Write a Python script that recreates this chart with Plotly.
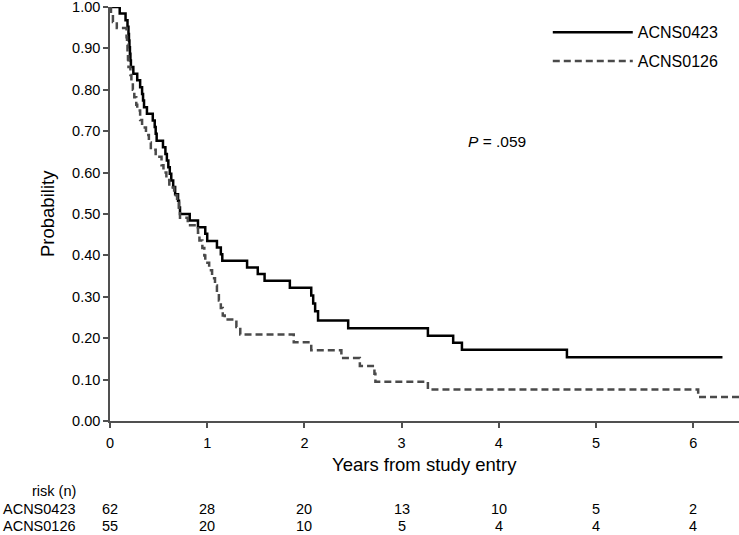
import plotly.graph_objects as go

# ---- data ----
t_0423 = [0.00, 0.10, 0.16, 0.18, 0.19, 0.195, 0.20, 0.205, 0.21, 0.215, 0.24, 0.28, 0.31, 0.33,
          0.34, 0.35, 0.38, 0.44, 0.46, 0.47, 0.48, 0.545, 0.57, 0.585, 0.60, 0.615, 0.63, 0.65,
          0.67, 0.70, 0.71, 0.72, 0.82, 0.905, 0.98, 1.00, 1.10, 1.14, 1.155, 1.41, 1.52, 1.59,
          1.85, 2.07, 2.09, 2.11, 2.14, 2.45, 3.27, 3.53, 3.62, 4.70, 6.30]
s_0423 = [1.000, 0.984, 0.968, 0.952, 0.935, 0.919, 0.903, 0.887, 0.871, 0.855, 0.839, 0.823,
          0.806, 0.790, 0.774, 0.758, 0.742, 0.726, 0.710, 0.694, 0.677, 0.661, 0.645, 0.629,
          0.613, 0.597, 0.581, 0.565, 0.548, 0.532, 0.516, 0.500, 0.484, 0.468, 0.452, 0.435,
          0.419, 0.403, 0.387, 0.371, 0.355, 0.339, 0.322, 0.303, 0.284, 0.265, 0.243, 0.224,
          0.206, 0.189, 0.172, 0.154, 0.154]

t_0126 = [0.00, 0.01, 0.03, 0.07, 0.17, 0.175, 0.18, 0.185, 0.19, 0.21, 0.22, 0.235, 0.25, 0.27,
          0.28, 0.31, 0.33, 0.37, 0.40, 0.42, 0.47, 0.53, 0.55, 0.58, 0.61, 0.66, 0.69, 0.71,
          0.72, 0.80, 0.905, 0.92, 0.95, 0.97, 0.98, 1.02, 1.05, 1.08, 1.10, 1.12, 1.14, 1.16,
          1.18, 1.30, 1.34, 1.89, 2.07, 2.38, 2.57, 2.72, 2.73, 3.27, 6.05, 6.60]
s_0126 = [1.000, 0.982, 0.964, 0.949, 0.927, 0.909, 0.891, 0.873, 0.855, 0.836, 0.818, 0.800,
          0.782, 0.764, 0.750, 0.727, 0.709, 0.691, 0.673, 0.655, 0.638, 0.618, 0.600, 0.582,
          0.564, 0.545, 0.527, 0.509, 0.491, 0.473, 0.455, 0.436, 0.418, 0.400, 0.382, 0.364,
          0.345, 0.327, 0.309, 0.291, 0.273, 0.255, 0.245, 0.227, 0.209, 0.190, 0.171, 0.152,
          0.133, 0.114, 0.095, 0.076, 0.058, 0.058]

risk_times = [0, 1, 2, 3, 4, 5, 6]
risk_0423 = [62, 28, 20, 13, 10, 5, 2]
risk_0126 = [55, 20, 10, 5, 4, 4, 4]

y_ticks = [0.0, 0.1, 0.2, 0.3, 0.4, 0.5, 0.6, 0.7, 0.8, 0.9, 1.0]
x_ticks = [0, 1, 2, 3, 4, 5, 6]

FONT = "Arial, Liberation Sans, sans-serif"
AXIS_COL = "#505050"
RISK_SIZE = 14.5

fig = go.Figure()
fig.add_trace(go.Scatter(x=t_0423, y=s_0423, mode="lines", line_shape="hv",
                         name="ACNS0423", legendgroup="a",
                         line=dict(color="black", width=2.5), cliponaxis=False))
fig.add_trace(go.Scatter(x=t_0126, y=s_0126, mode="lines", line_shape="hv",
                         name="ACNS0126", legendgroup="b",
                         line=dict(color="#4a4a4a", width=2.5, dash="7px,4px")))

annotations = []
# axis titles
annotations.append(dict(text="Years from study entry", xref="paper", yref="paper", x=0.5, y=0,
                        xanchor="center", yanchor="middle", yshift=-43, showarrow=False,
                        font=dict(size=18.5, color="black", family=FONT)))
annotations.append(dict(text="Probability", xref="paper", yref="paper", x=0, y=0.5,
                        xanchor="center", yanchor="middle", xshift=-63, textangle=-90,
                        showarrow=False, font=dict(size=18.5, color="black", family=FONT)))
# risk table
annotations.append(dict(text="risk (n)", xref="paper", yref="paper", x=0, y=0,
                        xanchor="right", yanchor="middle", xshift=-32, yshift=-70,
                        showarrow=False, font=dict(size=RISK_SIZE, color="black", family=FONT)))
for lab, vals, ys in (("ACNS0423", risk_0423, -88), ("ACNS0126", risk_0126, -105)):
    annotations.append(dict(text=lab, xref="paper", yref="paper", x=0, y=0,
                            xanchor="right", yanchor="middle", xshift=-32, yshift=ys,
                            showarrow=False, font=dict(size=RISK_SIZE, color="black", family=FONT)))
    for tx, v in zip(risk_times, vals):
        annotations.append(dict(text=str(v), xref="x", yref="paper", x=tx, y=0,
                                xanchor="center", yanchor="middle", yshift=ys,
                                showarrow=False, font=dict(size=RISK_SIZE, color="black", family=FONT)))
# p value
annotations.append(dict(text="<i>P</i> = .059", xref="paper", yref="paper", x=0.566, y=0.676,
                        xanchor="left", yanchor="middle", showarrow=False,
                        font=dict(size=15.5, color="black", family=FONT)))

fig.update_layout(
    width=739, height=535,
    margin=dict(l=110, r=0, t=7, b=114, autoexpand=False),
    paper_bgcolor="white", plot_bgcolor="white",
    font=dict(family=FONT, size=14, color="black"),
    showlegend=True,
    legend=dict(x=0.696, y=0.98, xanchor="left", yanchor="top",
                itemwidth=80, tracegroupgap=5, traceorder="grouped",
                font=dict(size=16, family=FONT, color="black"),
                bgcolor="rgba(0,0,0,0)"),
    xaxis=dict(range=[0, 6.47], tickvals=x_ticks, ticktext=[str(v) for v in x_ticks],
               automargin=False,
               showgrid=False, zeroline=False, showline=True, linecolor=AXIS_COL, linewidth=1.5,
               ticks="outside", ticklen=5, tickwidth=1.5, tickcolor=AXIS_COL,
               ticklabelstandoff=3,
               tickfont=dict(size=14.5, family=FONT, color="black")),
    yaxis=dict(range=[0, 1.0], tickvals=y_ticks, tickformat=".2f", automargin=False,
               ticklabeloverflow="allow",
               showgrid=False, zeroline=False, showline=True, linecolor=AXIS_COL, linewidth=1.5,
               ticks="outside", ticklen=5, tickwidth=1.5, tickcolor=AXIS_COL,
               tickfont=dict(size=14.5, family=FONT, color="black")),
    annotations=annotations,
)

fig.write_html("out.html", config={"displayModeBar": False},
               post_script="document.body.style.margin='0';")
